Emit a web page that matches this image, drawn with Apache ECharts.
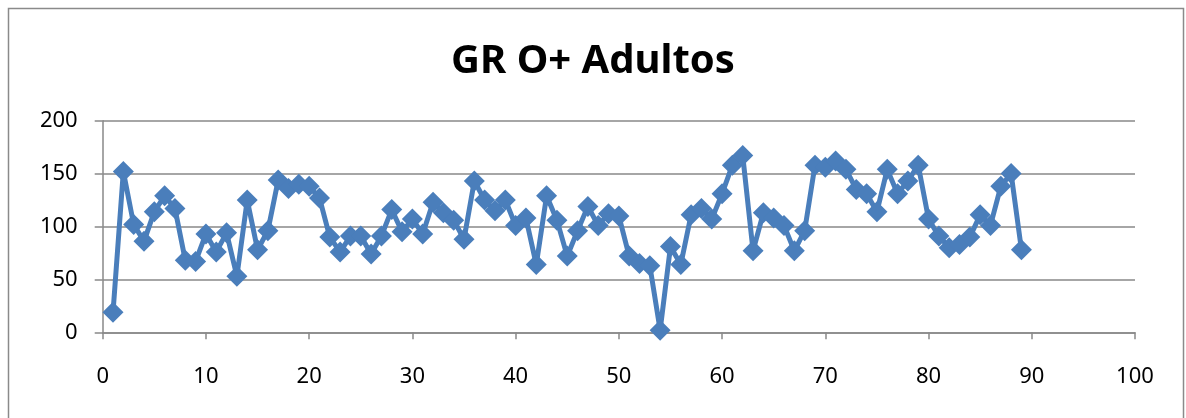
<!DOCTYPE html>
<html>
<head>
<meta charset="utf-8">
<script src="https://cdn.jsdelivr.net/npm/echarts@6/dist/echarts.min.js"></script>
<style>
html,body{margin:0;padding:0;background:#fff;}
#c{width:1186px;height:418px;}
</style>
</head>
<body>
<div id="c"></div>
<script>
var titleText = "GR O+ Adultos";
var xValues = [1,2,3,4,5,6,7,8,9,10,11,12,13,14,15,16,17,18,19,20,21,22,23,24,25,26,27,28,29,30,31,32,33,34,35,36,37,38,39,40,41,42,43,44,45,46,47,48,49,50,51,52,53,54,55,56,57,58,59,60,61,62,63,64,65,66,67,68,69,70,71,72,73,74,75,76,77,78,79,80,81,82,83,84,85,86,87,88,89];
var yValues = [19,152,102,86,114,129,117,68,67,93,76,94,53,125,78,96,144,136,140,138,127,90,76,91,91,74,91,116,95,107,93,123,113,106,88,143,125,115,125,101,108,64,129,106,72,96,119,101,112,110,72,65,63,2,81,64,111,117,107,131,158,167,77,113,108,101,77,96,158,156,162,154,135,131,114,154,131,143,158,107,91,80,83,90,111,101,138,150,78];
var xTicks = {min:0, max:100, interval:10};
var yTicks = {min:0, max:200, interval:50};

var data = xValues.map(function(x,i){return [x, yValues[i]];});
var chart = echarts.init(document.getElementById('c'));
var gray = '#898989';
chart.setOption({
  animation:false,
  backgroundColor:'#fff',
  title:{
    text:titleText, left:'center', top:37,
    textStyle:{fontFamily:'Noto Sans', fontWeight:'bold', fontSize:40, color:'#000'}
  },
  graphic:[{
    type:'rect', shape:{x:8.5,y:8.5,width:1175,height:430},
    style:{fill:'none', stroke:'#8a8a8a', lineWidth:1.5}, silent:true
  }],
  grid:{left:102.7, right:51, top:120.7, bottom:85.7, containLabel:false},
  xAxis:{
    type:'value', min:xTicks.min, max:xTicks.max, interval:xTicks.interval,
    axisLine:{show:true, lineStyle:{color:gray, width:1.5}},
    axisTick:{show:true, inside:false, length:7, lineStyle:{color:gray, width:1.5}},
    axisLabel:{margin:33, fontFamily:'Noto Sans', fontSize:22, color:'#000'},
    splitLine:{show:false}
  },
  yAxis:{
    type:'value', min:yTicks.min, max:yTicks.max, interval:yTicks.interval,
    axisLine:{show:true, lineStyle:{color:gray, width:1.5}},
    axisTick:{show:true, inside:false, length:8, lineStyle:{color:gray, width:1.5}},
    axisLabel:{margin:25, fontFamily:'Noto Sans', fontSize:22, color:'#000'},
    splitLine:{show:true, lineStyle:{color:gray, width:1.5}}
  },
  series:[{
    type:'line', data:data,
    symbol:'diamond', symbolSize:21, showAllSymbol:true,
    lineStyle:{color:'#4a7ebb', width:5},
    itemStyle:{color:'#4a7ebb', borderWidth:0},
    emphasis:{disabled:true}
  }]
});
</script>
</body>
</html>
